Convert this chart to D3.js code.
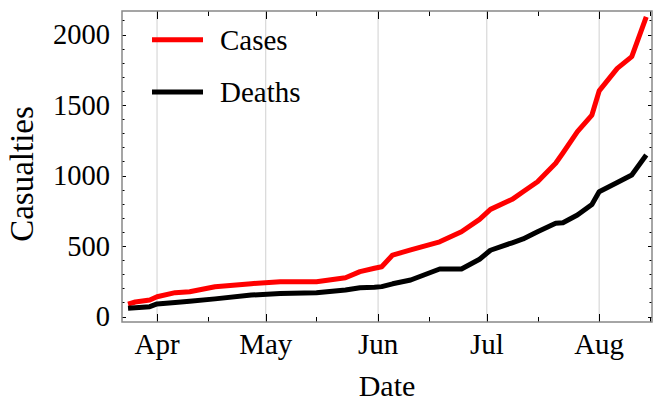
<!DOCTYPE html>
<html><head><meta charset="utf-8">
<script src="https://cdn.jsdelivr.net/npm/d3@7"></script>
<style>body{margin:0;background:#fff}svg{display:block}text{font-family:"Liberation Serif","Times New Roman",serif;fill:#000}</style>
</head><body>
<script>
const dates = ["2020-03-24","2020-03-26","2020-03-30","2020-04-01","2020-04-06","2020-04-10","2020-04-17","2020-04-27","2020-05-05","2020-05-15","2020-05-23","2020-05-27","2020-05-31","2020-06-02","2020-06-05","2020-06-10","2020-06-18","2020-06-24","2020-06-29","2020-07-02","2020-07-08","2020-07-11","2020-07-15","2020-07-20","2020-07-22","2020-07-26","2020-07-30","2020-08-01","2020-08-06","2020-08-10","2020-08-14"];
const cases  = [88,103,117,140,169,176,211,233,247,247,275,318,342,353,436,472,530,601,689,760,831,885,956,1087,1160,1311,1429,1600,1760,1843,2126];
const deaths = [58,62,70,89,100,108,125,152,164,169,188,204,207,212,232,259,337,337,406,470,523,550,601,661,665,720,795,885,950,1004,1145];
const seriesNames = ["Cases","Deaths"];
const seriesColors = ["#ff0000","#000000"];
const yTicks = [0,500,1000,1500,2000];
const monthLabels = ["Apr","May","Jun","Jul","Aug"];
const xTitle = "Date", yTitle = "Casualties";

const W=653,H=401, L=122,R=652,T=11,B=322;
const svg=d3.select("body").append("svg").attr("width",W).attr("height",H);
const parse=d3.utcParse("%Y-%m-%d");
const x=d3.scaleUtc().domain([Date.UTC(2020,2,22,8),Date.UTC(2020,7,15,14)]).range([L,R]);
const y=d3.scaleLinear().domain([-39,2167]).range([B,T]);
const majorX=d3.utcMonth.range(Date.UTC(2020,3,1),Date.UTC(2020,8,1));
const minorX=majorX.map(d=>d3.utcDay.offset(d,14)).filter(d=>x(d)<=R+0.5);
const minorY=d3.range(0,2200,100).filter(v=>y(v)>=T&&y(v)<=B);

// grid
svg.append("g").selectAll("line").data(majorX).join("line")
 .attr("x1",d=>x(d)).attr("x2",d=>x(d)).attr("y1",T).attr("y2",B)
 .attr("stroke","#d0d0d0").attr("stroke-width",1);

// lines
const data=[cases,deaths];
const line=d3.line().x((d,i)=>x(parse(dates[i]))).y(d=>y(d));
data.forEach((s,k)=>{
 svg.append("path").datum(s).attr("d",line).attr("fill","none")
  .attr("stroke",seriesColors[k]).attr("stroke-width",5)
  .attr("stroke-linejoin","round").attr("stroke-linecap","butt");
});

// ticks
const tk=svg.append("g").attr("stroke","#000").attr("stroke-width",1);
const drawX=(arr,len)=>arr.forEach(d=>{const xx=Math.round(x(d))+0.5;
 tk.append("line").attr("x1",xx).attr("x2",xx).attr("y1",B).attr("y2",B-len);
 tk.append("line").attr("x1",xx).attr("x2",xx).attr("y1",T).attr("y2",T+len);});
drawX(majorX,8); drawX(minorX,5);
minorY.forEach(v=>{const yy=Math.round(y(v))+0.5;const len=yTicks.includes(v)?4:2.5;
 tk.append("line").attr("x1",L).attr("x2",L+len).attr("y1",yy).attr("y2",yy);
 tk.append("line").attr("x1",R).attr("x2",R-len).attr("y1",yy).attr("y2",yy);});

// frame
svg.append("rect").attr("x",L).attr("y",T).attr("width",R-L).attr("height",B-T)
 .attr("fill","none").attr("stroke","#888").attr("stroke-width",1.5);

// tick labels
svg.append("g").selectAll("text").data(yTicks).join("text")
 .attr("x",110).attr("y",d=>y(d)).attr("dy","0.34em").attr("text-anchor","end")
 .attr("font-size",28.5).text(d=>d);
svg.append("g").selectAll("text").data(majorX).join("text")
 .attr("x",d=>x(d)).attr("y",354).attr("text-anchor","middle")
 .attr("font-size",29).text((d,i)=>monthLabels[i]);

// titles
svg.append("text").attr("x",(L+R)/2).attr("y",396).attr("text-anchor","middle")
 .attr("font-size",30).text(xTitle);
svg.append("text").attr("transform",`translate(33,174) rotate(-90)`)
 .attr("text-anchor","middle").attr("font-size",33).text(yTitle);

// legend
const lg=svg.append("g");
seriesNames.forEach((n,k)=>{
 const ly=39.7+k*52.3;
 lg.append("line").attr("x1",152).attr("x2",203).attr("y1",ly).attr("y2",ly)
  .attr("stroke",seriesColors[k]).attr("stroke-width",5);
 lg.append("text").attr("x",220).attr("y",ly+10).attr("font-size",29).text(n);
});
</script>
</body></html>
